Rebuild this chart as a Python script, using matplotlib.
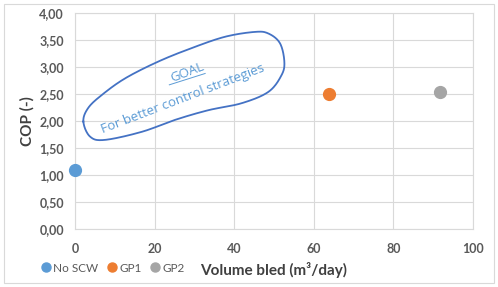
import numpy as np
import matplotlib.pyplot as plt
from matplotlib.lines import Line2D
from matplotlib.patches import Rectangle

plt.rcParams['font.family'] = ['Lato', 'DejaVu Sans']

# data
series = ['No SCW', 'GP1', 'GP2']
volume = [0, 63.8, 91.8]        # m3/day
cop = [1.10, 2.50, 2.54]
colors = ['#5B9BD5', '#ED7D31', '#A5A5A5']
xticks = [0, 20, 40, 60, 80, 100]
yticks = [0, 0.5, 1.0, 1.5, 2.0, 2.5, 3.0, 3.5, 4.0]

# outline of the "goal" blob (data coords)
blob_x = [2.1, 3.8, 7.5, 16.8, 25.1, 33.5, 41.9, 48.6, 51.9, 52.6, 51.5, 48.6, 45.2,
          37.7, 29.3, 20.9, 12.6, 6.7, 3.3]
blob_y = [1.99, 1.71, 1.65, 1.80, 2.02, 2.20, 2.33, 2.54, 2.85, 3.10, 3.44, 3.62, 3.65,
          3.56, 3.35, 3.10, 2.79, 2.48, 2.24]

fig = plt.figure(figsize=(4.98, 2.87), dpi=100)
ax = fig.add_axes([75/498, 1 - 229/287, (473-75)/498, (229-13)/287])

for v, c, col in zip(volume, cop, colors):
    ax.plot(v, c, 'o', color=col, markersize=8.5, zorder=3, clip_on=False)

ax.set_xlim(0, 100)
ax.set_ylim(0, 4)
ax.set_xticks(xticks)
ax.set_yticks(yticks)
ax.set_yticklabels([f'{t:.2f}'.replace('.', ',') for t in yticks])
ax.grid(True, color='#D9D9D9', linewidth=0.8)
ax.set_axisbelow(True)
for s in ax.spines.values():
    s.set_color('#D9D9D9')
    s.set_linewidth(0.8)
ax.tick_params(length=0, labelsize=9, labelcolor='#595959', pad=8)
ax.tick_params(axis='x', pad=10)
for lab in ax.get_xticklabels() + ax.get_yticklabels():
    lab.set_fontweight('bold')

ax.set_ylabel('COP (-)', fontsize=11, fontweight='bold', color='#404040')
ax.yaxis.set_label_coords((35 - 75) / 398, 0.5)
fig.text(274/498, 1 - 270/287, 'Volume bled (m³/day)', fontsize=11, fontweight='bold',
         color='#404040', ha='center', va='center')

# closed smooth curve (Catmull-Rom)
px = np.array(blob_x)
py = np.array(blob_y)
n = len(px)
cx, cy = [], []
t = np.linspace(0, 1, 20, endpoint=False)
for i in range(n):
    p0, p1, p2, p3 = [(px[(i + k) % n], py[(i + k) % n]) for k in (-1, 0, 1, 2)]
    for tt in t:
        for j, arr in enumerate((cx, cy)):
            a0, a1, a2, a3 = p0[j], p1[j], p2[j], p3[j]
            arr.append(0.5 * (2 * a1 + (-a0 + a2) * tt + (2 * a0 - 5 * a1 + 4 * a2 - a3) * tt ** 2
                              + (-a0 + 3 * a1 - 3 * a2 + a3) * tt ** 3))
cx.append(cx[0])
cy.append(cy[0])
ax.plot(cx, cy, color='#4472C4', linewidth=1.3, zorder=4)

ax.text(28.1, 2.9, 'GOAL', fontsize=9.5, color='#5B9BD5', rotation=21, ha='center', va='center',
        family=['Open Sans', 'DejaVu Sans'])
ax.plot([23.7, 32.7], [2.67, 2.88], color='#5B9BD5', linewidth=0.7)
ax.text(27.0, 2.41, 'For better control strategies', fontsize=9.5, color='#5B9BD5', rotation=21,
        ha='center', va='center', family=['Open Sans', 'DejaVu Sans'])

handles = [Line2D([], [], marker='o', linestyle='', color=c, markersize=6.5) for c in colors]
fig.legend(handles, series, loc='center left', bbox_to_anchor=(41/498, 1 - 268/287), ncol=3,
           frameon=False, fontsize=8.5, handlelength=0.8, handletextpad=0.25, columnspacing=0.7,
           borderaxespad=0, borderpad=0, labelcolor='#595959')

fig.patches.append(Rectangle((4/498, 4/287), 490/498, 279/287, transform=fig.transFigure,
                             fill=False, edgecolor='#D9D9D9', linewidth=0.8))

fig.savefig('out.png', dpi=100)
